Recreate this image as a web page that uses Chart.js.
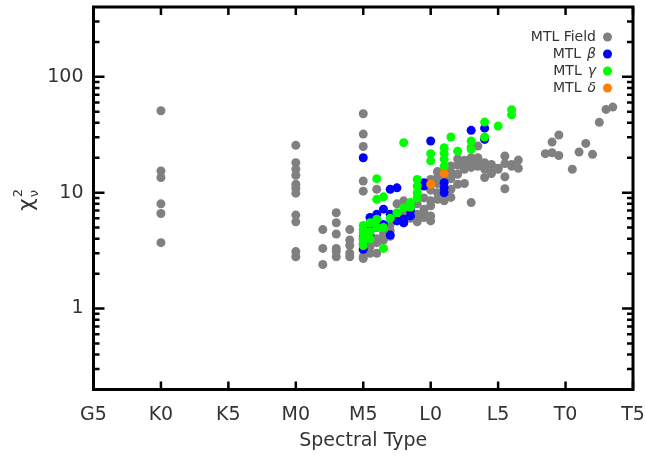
<!DOCTYPE html>
<html>
<head>
<meta charset="utf-8">
<script src="https://cdn.jsdelivr.net/npm/chart.js@4.4.0/dist/chart.umd.min.js"></script>
<style>
  html, body { margin: 0; padding: 0; background: #fff; }
  #wrap { width: 645px; height: 457px; }
</style>
</head>
<body>
<div id="wrap"><canvas id="myChart"></canvas></div>
<script>
// spectral type as a number: G5=5, K0=10, K5=15, M0=20, M5=25, L0=30, L5=35, T0=40, T5=45
const xTickValues = [5, 10, 15, 20, 25, 30, 35, 40, 45];
const xTickLabels = ['G5', 'K0', 'K5', 'M0', 'M5', 'L0', 'L5', 'T0', 'T5'];
const yTickValues = [1, 10, 100];

const fieldSpT = [10, 10, 10, 10, 10, 10,
    20, 20, 20, 20, 20, 20, 20, 20, 20, 20, 20,
    22, 22, 22,
    23, 23, 23, 23, 23, 23,
    24, 24, 24, 24, 24,
    25, 25, 25, 25, 25, 25, 25, 25, 25, 25,
    25.5, 25.5, 25.5,
    26, 26, 26, 26,
    26.5, 26.5,
    27, 27, 27,
    27.5, 27.5,
    28, 28, 28,
    28.5, 28.5, 28.5,
    29, 29, 29,
    29.5, 29.5, 29.5, 29.5,
    30, 30, 30, 30, 30, 30,
    30.5, 30.5, 30.5, 30.5, 30.5,
    31, 31, 31, 31, 31,
    31.5, 31.5, 31.5, 31.5, 31.5,
    32, 32, 32, 32,
    32.5, 32.5, 32.5, 32.5,
    33, 33, 33, 33, 33,
    33.5, 33.5, 33.5, 33.5,
    34, 34, 34,
    34.5, 34.5, 34.5,
    35, 35,
    35.5, 35.5, 35.5, 35.5,
    36, 36,
    36.5, 36.5,
    38.5, 39, 39, 39.5, 39.5, 40.5, 41, 41.5, 42, 42.5, 43, 43.5];
const fieldChi = [50.9, 15.4, 13.5, 8.0, 6.6, 3.7,
    25.6, 18.1, 15.9, 14.1, 11.8, 10.9, 9.9, 6.4, 5.6, 3.1, 2.8,
    4.8, 3.3, 2.4,
    6.7, 5.5, 4.4, 3.3, 3.1, 2.8,
    4.8, 3.9, 3.5, 3.0, 2.8,
    48, 32, 25, 12.6, 10.3, 4.2, 3.6, 3.2, 2.8, 2.7,
    3.0, 3.4, 4.6,
    10.7, 4.0, 3.7, 3.0,
    4.4, 3.9,
    5.3, 4.2, 4.7,
    5.8, 8.0,
    8.5, 5.5, 6.5,
    7.0, 6.0, 7.8,
    6.5, 5.6, 8.0,
    6.7, 6.1, 7.2, 9.0,
    7.7, 5.7, 6.3, 8.5, 13.0, 10.5,
    15.2, 8.75, 10.0, 12.0, 13.5,
    8.5, 9.5, 12.5, 16.0, 14.0,
    10.7, 9.1, 13.2, 17.0, 15.0,
    17.2, 14.4, 11.8, 19.5,
    15.9, 12.0, 19.0, 17.5,
    24.4, 20.0, 8.2, 16.5, 18.0,
    25.2, 20.0, 16.9, 18.5,
    18.1, 13.5, 16.0,
    14.9, 14.6, 17.5,
    15.9, 16.2,
    20.7, 17.8, 13.7, 10.8,
    17.5, 16.9,
    19.1, 16.2,
    21.7, 27.3, 22.1, 31.4, 20.9, 15.9, 22.4, 26.6, 21.4, 40.4, 52.3, 54.7];

const betaSpT = [25, 25, 25, 25, 25.5, 25.5, 25.5, 26, 26, 26.5, 26.5, 27, 27, 27, 27.5, 27.5,
    28, 28, 28.5, 28.5, 29.5, 29.5, 30, 31, 31, 31, 33, 34, 34];
const betaChi = [20, 3.25, 3.6, 4.0, 6.1, 4.3, 4.8, 6.5, 5.0, 7.2, 5.3, 6.5, 10.7, 4.3, 11.0, 5.7,
    5.5, 5.9, 6.3, 7.0, 12.2, 11.4, 27.9, 12.2, 11.0, 10.0, 34.5, 36, 28.8];

const gammaSpT = [25, 25, 25, 25, 25, 25, 25.5, 25.5, 25.5, 26, 26, 26, 26, 26.5, 26.5, 26.5,
    27, 27.5, 28, 28, 28.5, 28.5, 29, 29, 29, 29, 30, 30, 31, 31, 31, 31, 31.5, 32, 33, 33,
    34, 34, 35, 36, 36];
const gammaChi = [5.2, 4.5, 4.0, 3.5, 4.8, 3.8, 4.6, 5.5, 4.0, 13.2, 8.75, 5.9, 5.0, 9.2, 5.0, 3.3,
    6.0, 6.7, 7.4, 27, 8.2, 7.5, 13.0, 11.4, 10.0, 9.0, 21.7, 18.8, 24.4, 21.8, 19.4, 16.9, 30.2, 22.8, 27.9, 23.6,
    40.6, 30.2, 37.5, 52, 47];

const deltaSpT = [30, 31];
const deltaChi = [11.8, 14.6];

const seriesNames = ['Field', 'β', 'γ', 'δ'];
const seriesColors = ['#808080', '#0000ff', '#00ff00', '#ff8000'];

function pts(xs, ys) {
    return xs.map((v, i) => ({ x: v, y: ys[i] }));
}

const frame = {
    id: 'frame',
    afterDraw(chart) {
        const ctx = chart.ctx;
        const a = chart.chartArea;
        const x = chart.scales.x;
        const y = chart.scales.y;
        ctx.save();
        ctx.strokeStyle = '#000';
        ctx.lineWidth = 2.5;
        ctx.beginPath();
        xTickValues.forEach(v => {
            const px = x.getPixelForValue(v);
            ctx.moveTo(px, a.bottom); ctx.lineTo(px, a.bottom - 8);
            ctx.moveTo(px, a.top); ctx.lineTo(px, a.top + 8);
        });
        for (let e = -1; e <= 2; e++) {
            for (let m = 1; m < 10; m++) {
                const v = m * Math.pow(10, e);
                if (v <= y.min || v >= y.max) continue;
                const py = y.getPixelForValue(v);
                const len = m === 1 ? 11 : 6;
                ctx.moveTo(a.left, py); ctx.lineTo(a.left + len, py);
                ctx.moveTo(a.right, py); ctx.lineTo(a.right - len, py);
            }
        }
        ctx.stroke();
        ctx.lineWidth = 3;
        ctx.strokeRect(a.left, a.top, a.right - a.left, a.bottom - a.top);

        // legend, text on the left of the marker
        ctx.textBaseline = 'middle';
        ctx.textAlign = 'right';
        ctx.fillStyle = '#333';
        seriesNames.forEach((name, i) => {
            const ty = 37 + i * 17;
            let right = 596;
            if (i > 0) {
                ctx.font = 'italic 14px "DejaVu Sans"';
                ctx.fillText(name, right, ty);
                right -= ctx.measureText(name).width + 6;
            }
            ctx.font = '14px "DejaVu Sans"';
            ctx.fillText(i === 0 ? 'MTL Field' : 'MTL', right, ty);
            ctx.beginPath();
            ctx.fillStyle = seriesColors[i];
            ctx.arc(607.5, ty, 4.5, 0, Math.PI * 2);
            ctx.fill();
            ctx.fillStyle = '#333';
        });

        // axis titles
        ctx.textAlign = 'center';
        ctx.textBaseline = 'alphabetic';
        ctx.font = '19px "DejaVu Sans"';
        ctx.fillText('Spectral Type', (a.left + a.right) / 2, 446);

        ctx.translate(33, 211);
        ctx.rotate(-Math.PI / 2);
        ctx.textAlign = 'left';
        ctx.font = '22px "DejaVu Sans"';
        ctx.fillText('χ', 0, 0);
        const w = ctx.measureText('χ').width;
        ctx.font = '13px "DejaVu Sans"';
        ctx.fillText('2', w + 1, -11);
        ctx.fillText('ν', w + 1, 5);
        ctx.restore();
    }
};

// higher order is painted first: field at the back, delta on top
const data = {
    datasets: [
        { label: 'MTL Field', data: pts(fieldSpT, fieldChi), backgroundColor: seriesColors[0], order: 3 },
        { label: 'MTL β', data: pts(betaSpT, betaChi), backgroundColor: seriesColors[1], order: 2 },
        { label: 'MTL γ', data: pts(gammaSpT, gammaChi), backgroundColor: seriesColors[2], order: 1 },
        { label: 'MTL δ', data: pts(deltaSpT, deltaChi), backgroundColor: seriesColors[3], order: 0 }
    ]
};

const config = {
    type: 'scatter',
    data: data,
    options: {
        responsive: true,
        maintainAspectRatio: false,
        animation: false,
        layout: { padding: { top: 7, right: 12, left: 0, bottom: 0 } },
        elements: { point: { radius: 4.5, borderWidth: 0, hoverRadius: 4.5 } },
        plugins: { legend: { display: false }, tooltip: { enabled: false } },
        scales: {
            x: {
                type: 'linear',
                min: 5,
                max: 45,
                afterBuildTicks: s => { s.ticks = xTickValues.map(v => ({ value: v })); },
                afterFit: s => { s.height = 67.5; s.paddingLeft = 0; s.paddingRight = 0; },
                grid: { display: false, drawTicks: false },
                border: { display: false },
                ticks: {
                    padding: 14,
                    maxRotation: 0,
                    autoSkip: false,
                    color: '#333',
                    font: { family: 'DejaVu Sans', size: 19 },
                    callback: v => xTickLabels[xTickValues.indexOf(v)]
                }
            },
            y: {
                type: 'logarithmic',
                min: 0.2,
                max: 400,
                afterBuildTicks: s => { s.ticks = yTickValues.map(v => ({ value: v })); },
                afterFit: s => { s.width = 93.5; s.paddingTop = 0; s.paddingBottom = 0; },
                grid: { display: false, drawTicks: false },
                border: { display: false },
                ticks: {
                    padding: 10,
                    color: '#333',
                    font: { family: 'DejaVu Sans', size: 19 },
                    callback: v => String(v)
                }
            }
        }
    },
    plugins: [frame]
};

const myChart = new Chart(document.getElementById('myChart'), config);
</script>
</body>
</html>
